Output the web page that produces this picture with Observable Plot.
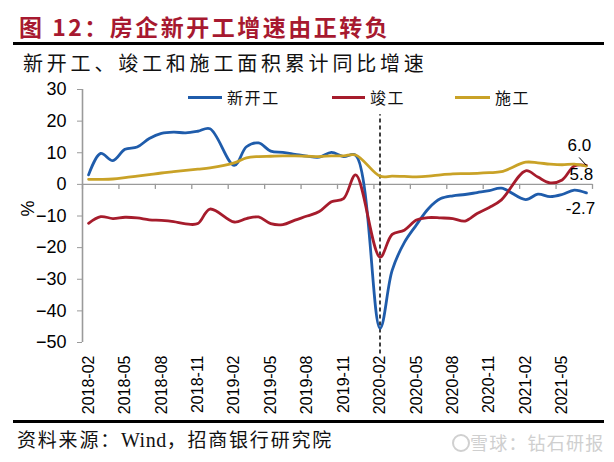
<!DOCTYPE html>
<html><head><meta charset="utf-8">
<script src="https://cdn.jsdelivr.net/npm/d3@7"></script>
<script src="https://cdn.jsdelivr.net/npm/@observablehq/plot@0.6"></script>
<style>
body{margin:0;background:#fff;}
#wrap{position:relative;width:614px;height:462px;overflow:hidden;background:#fff;font-family:"Noto Sans CJK SC","Noto Sans",sans-serif;}
#wrap svg{position:absolute;left:0;top:0;}
.abs{position:absolute;white-space:nowrap;}
#title{left:19px;top:15px;font-size:23px;line-height:23px;font-weight:bold;color:#A71930;letter-spacing:2.5px;}
#sub{left:23px;top:53px;font-size:20px;line-height:20px;letter-spacing:3.8px;color:#111;}
.rule{position:absolute;left:13px;width:591px;height:3px;background:#000;}
.leg{font-size:16px;line-height:16px;color:#111;letter-spacing:1.6px;}
.legline{position:absolute;height:3px;}
#pct{left:20px;top:198px;font-family:"Liberation Sans",Arial,sans-serif;font-size:18px;transform:rotate(-90deg);}
#src{left:17px;top:429px;font-size:19px;line-height:20px;letter-spacing:1.8px;color:#111;}
#src .w{font-family:"Liberation Serif","Times New Roman",serif;font-size:20px;letter-spacing:0.5px;}
#wm{left:470px;top:433px;font-size:18px;line-height:18px;color:#cfcfcf;letter-spacing:1.2px;}
#logo{position:absolute;left:452px;top:434px;width:14px;height:14px;border:2px solid #d0d0d0;border-radius:50%;}
</style>
</head><body>
<div id="wrap"></div>
<script>
// ---- data ----
const months = [
 "2018-02","2018-03","2018-04","2018-05","2018-06","2018-07","2018-08","2018-09","2018-10","2018-11","2018-12",
 "2019-02","2019-03","2019-04","2019-05","2019-06","2019-07","2019-08","2019-09","2019-10","2019-11","2019-12",
 "2020-02","2020-03","2020-04","2020-05","2020-06","2020-07","2020-08","2020-09","2020-10","2020-11","2020-12",
 "2021-02","2021-03","2021-04","2021-05","2021-06","2021-07"
];
const seriesNames = ["新开工","竣工","施工"];
const xinkaigong = [
 3.0, 9.8, 7.5, 11.1, 11.8, 14.5, 16.1, 16.5, 16.3, 16.8, 17.6,
 6.0, 11.9, 13.1, 10.5, 10.1, 9.5, 8.9, 8.6, 10.1, 8.8, 9.2,
 -45.5, -27.2, -18.4, -12.8, -7.6, -4.5, -3.6, -3.2, -2.6, -2.0, -1.2,
 -4.8, -3.1, -3.9, -3.2, -1.8, -2.7
];
const jungong = [
 -12.3, -10.2, -10.8, -10.4, -10.6, -11.2, -11.4, -11.8, -12.5, -12.4, -7.8,
 -11.9, -10.8, -10.3, -12.4, -12.7, -11.3, -10.0, -8.6, -5.5, -4.5, 3.0,
 -23.0, -15.8, -14.5, -11.3, -10.5, -10.6, -10.8, -11.6, -9.2, -7.3, -4.9,
 4.3, 2.3, 0.5, 1.4, 5.8, 6.0
];
const shigong = [
 1.6, 1.6, 1.7, 2.1, 2.6, 3.1, 3.6, 4.0, 4.4, 4.8, 5.2,
 6.8, 8.4, 8.8, 8.9, 9.0, 9.0, 8.9, 8.8, 9.0, 9.0, 9.3,
 2.6, 2.6, 2.5, 2.4, 2.6, 3.0, 3.3, 3.4, 3.5, 3.7, 4.0,
 7.0, 6.8, 6.4, 6.2, 6.4, 5.8
];
const tickLabels = ["2018-02","2018-05","2018-08","2018-11","2019-02","2019-05","2019-08","2019-11","2020-02","2020-05","2020-08","2020-11","2021-02","2021-05"];
const yTicks = [30,20,10,0,-10,-20,-30,-40,-50];
const dividerMonth = "2020-02";
const colors = ["#1F5CAB","#A61C2C","#C9A227"];

// ---- helpers ----
const start = "2018-02";
const idx = s => { const [y,m] = s.split("-").map(Number); const [y0,m0] = start.split("-").map(Number); return (y-y0)*12 + (m-m0); };
const lastMonth = months[months.length-1];
const nCat = idx(lastMonth) + 1;
const boundaries = d3.range(-0.5, nCat, 3);
const tickIdx = tickLabels.map(idx);
const allVals = [xinkaigong, jungong, shigong];
const rows = seriesNames.map((name, s) => months.map((m, k) => ({i: idx(m), v: allVals[s][k], s: name})));
const last = rows.map(r => r[r.length-1]);

const plot = Plot.plot({
  width: 614, height: 420,
  marginTop: 89, marginLeft: 82, marginRight: 22, marginBottom: 78,
  x: {type: "linear", domain: [-0.5, nCat - 0.5]},
  y: {domain: [-50, 30]},
  style: {fontFamily: "'Liberation Sans', Arial, sans-serif", color: "#000", background: "transparent", overflow: "visible"},
  marks: [
    Plot.ruleY([0], {stroke: "#9a9a9a", strokeWidth: 1.3}),
    Plot.ruleX(boundaries, {x: d => d, y1: 0, y2: -1.6, stroke: "#9a9a9a", strokeWidth: 1.3}),
    Plot.ruleX([-0.5], {x: d => d, y1: -50, y2: 30, stroke: "#9a9a9a", strokeWidth: 1.6}),
    Plot.axisY({ticks: yTicks, tickSize: 5, tickPadding: 11, stroke: "#9a9a9a", fill: "#000", fontSize: 18, label: null}),
    Plot.axisX({ticks: tickIdx, tickSize: 0, tickRotate: -90, tickPadding: 13, fontSize: 16, fill: "#000", label: null,
      tickFormat: i => tickLabels[tickIdx.indexOf(i)]}),
    Plot.ruleX([dividerMonth], {x: d => idx(d), y1: -53.6, y2: 22, stroke: "#000", strokeWidth: 1.5, strokeDasharray: "4,3"}),
    ...rows.map((r, s) => Plot.line(r, {x: "i", y: "v", stroke: colors[s], strokeWidth: 2.8, curve: "catmull-rom"})),
    Plot.text([last[0]], {x: "i", y: "v", text: d => d.v.toFixed(1), dx: -6, dy: 16, fontSize: 17, fill: "#000"}),
    Plot.text([last[1]], {x: "i", y: "v", text: d => d.v.toFixed(1), dx: -7, dy: -20, fontSize: 17, fill: "#000"}),
    Plot.text([last[2]], {x: "i", y: "v", text: d => d.v.toFixed(1), dx: -5, dy: 9, fontSize: 17, fill: "#000"}),
    Plot.link([last[1]], {x1: "i", y1: "v", x2: d => d.i - 0.6, y2: d => d.v + 2.5, stroke: "#000", strokeWidth: 1})
  ]
});

const wrap = document.getElementById("wrap");
wrap.appendChild(plot);

const html = `
<div class="abs" id="title">图 12：房企新开工增速由正转负</div>
<div class="rule" style="top:42px"></div>
<div class="abs" id="sub">新开工、竣工和施工面积累计同比增速</div>
<div class="abs" id="pct">%</div>
<div class="legline" style="left:188px;top:95.5px;width:34px;background:${colors[0]}"></div>
<div class="abs leg" style="left:227px;top:89px">${seriesNames[0]}</div>
<div class="legline" style="left:332px;top:95.5px;width:33px;background:${colors[1]}"></div>
<div class="abs leg" style="left:370px;top:89px">${seriesNames[1]}</div>
<div class="legline" style="left:455px;top:95.5px;width:35px;background:${colors[2]}"></div>
<div class="abs leg" style="left:495px;top:89px">${seriesNames[2]}</div>
<div class="rule" style="top:420px"></div>
<div class="abs" id="src">资料来源：<span class="w">Wind</span>，招商银行研究院</div>
<div id="logo"></div>
<div class="abs" id="wm">雪球：钻石研报</div>`;
wrap.insertAdjacentHTML("beforeend", html);
</script>
</body></html>
